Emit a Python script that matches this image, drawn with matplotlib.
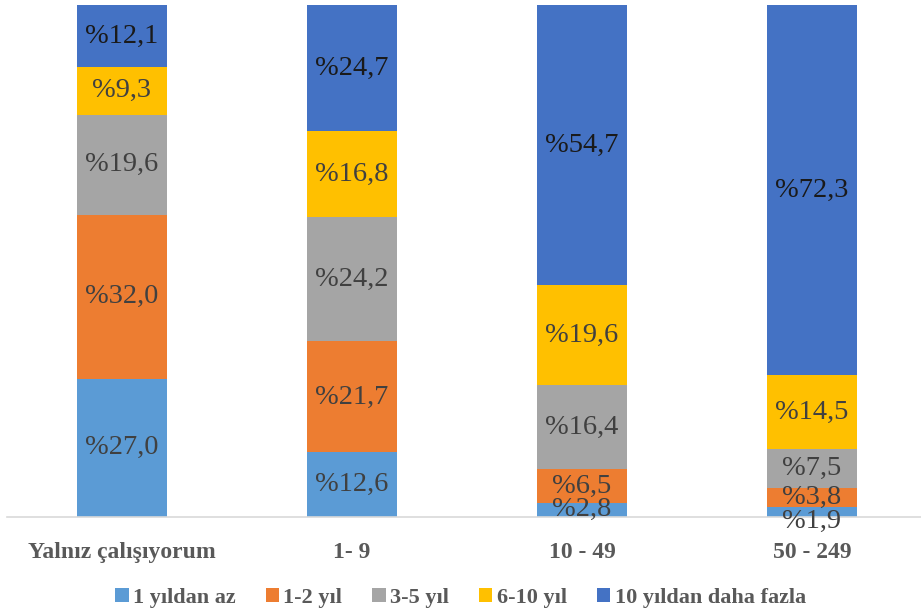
import matplotlib
matplotlib.use("Agg")
import matplotlib.pyplot as plt
import numpy as np

categories = ["Yalnız çalışıyorum", "1- 9", "10 - 49", "50 - 249"]
series_names = ["1 yıldan az", "1-2 yıl", "3-5 yıl", "6-10 yıl", "10 yıldan daha fazla"]
less_1 = [27.0, 12.6, 2.8, 1.9]
y1_2 = [32.0, 21.7, 6.5, 3.8]
y3_5 = [19.6, 24.2, 16.4, 7.5]
y6_10 = [9.3, 16.8, 19.6, 14.5]
more_10 = [12.1, 24.7, 54.7, 72.3]
colors = ["#5B9BD5", "#ED7D31", "#A5A5A5", "#FFC000", "#4472C4"]

plt.rcParams['font.family'] = ['Liberation Serif', 'DejaVu Serif']

fig = plt.figure(figsize=(9.21, 6.13), dpi=100)
ax = fig.add_axes([7 / 921, 96 / 613, 914 / 921, 512 / 613])

x = np.arange(len(categories))
data = [less_1, y1_2, y3_5, y6_10, more_10]
bottom = np.zeros(len(categories))
for vals, name, col in zip(data, series_names, colors):
    vals = np.array(vals)
    ax.bar(x, vals, width=0.39, bottom=bottom, color=col, label=name)
    for xi, b, v in zip(x, bottom, vals):
        yc = b + v / 2
        if v < 2.5:
            yc -= 1.8
        txt = "%" + f"{v:.1f}".replace(".", ",")
        tc = "#1a1a1a" if col == "#4472C4" else "#404040"
        ax.text(xi, yc, txt, ha="center", va="center", fontsize=20.5, color=tc)
    bottom += vals

ax.set_xlim(-0.5, 3.474)
ax.set_ylim(0, 100)
ax.set_yticks([])
ax.set_xticks(x)
ax.set_xticklabels(categories, fontsize=17, fontweight="bold", color="#595959")
ax.tick_params(axis="x", length=0, pad=18)
for s in ["top", "left", "right"]:
    ax.spines[s].set_visible(False)
ax.spines["bottom"].set_color("#d9d9d9")
ax.spines["bottom"].set_linewidth(1.2)

leg = fig.legend(loc="center", bbox_to_anchor=(0.5, 1 - 598 / 613), ncol=5, frameon=False,
                 handlelength=0.6, handleheight=0.6, handletextpad=0.2, columnspacing=1.35,
                 prop={"size": 16, "weight": "bold"})
for t in leg.get_texts():
    t.set_color("#595959")

fig.savefig("out.png", dpi=100)
